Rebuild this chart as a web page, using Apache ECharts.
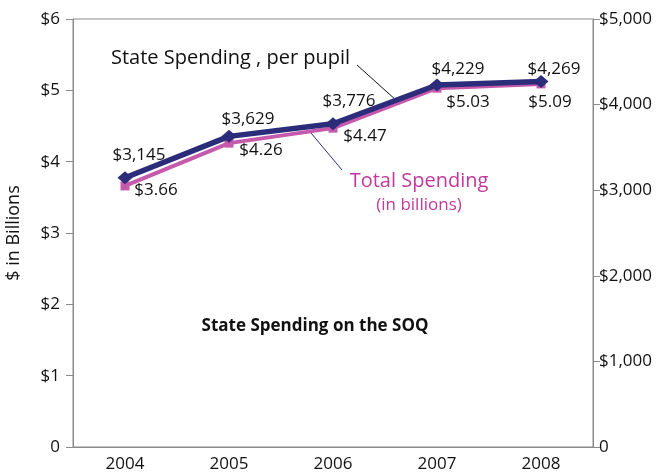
<!DOCTYPE html>
<html>
<head>
<meta charset="utf-8">
<script src="https://cdn.jsdelivr.net/npm/echarts@6/dist/echarts.min.js"></script>
<style>
  html, body { margin: 0; padding: 0; background: #fff; }
  #chart { width: 656px; height: 474px; }
</style>
</head>
<body>
<div id="chart"></div>
<script>
  const years = ['2004', '2005', '2006', '2007', '2008']
  const perPupil = [3145, 3629, 3776, 4229, 4269]
  const totalBillions = [3.66, 4.26, 4.47, 5.03, 5.09]
  const leftTicks = ['0', '$1', '$2', '$3', '$4', '$5', '$6']
  const rightTicks = ['0', '$1,000', '$2,000', '$3,000', '$4,000', '$5,000']

  // label centre offsets from each point, in pixels
  const pupilOffsets = [[14, -23], [19, -17], [16, -23], [21, -16], [13, -12]]
  const totalOffsets = [[31, 4], [32, 7], [32, 8], [31, 14], [9, 18]]

  const font = 'Open Sans'
  const navy = '#2c2d7a'
  const pink = '#c55aad'
  const grey = '#8a8a8a'

  const chart = echarts.init(document.getElementById('chart'))

  chart.setOption({
    animation: false,
    textStyle: { fontFamily: font },
    grid: {
      left: 73,
      right: 63,
      top: 19,
      bottom: 27,
      outerBoundsMode: 'none',
      show: true,
      borderColor: grey,
      borderWidth: 1
    },
    xAxis: {
      type: 'category',
      data: years,
      boundaryGap: true,
      axisLine: { lineStyle: { color: grey } },
      axisTick: { show: false },
      axisLabel: { color: '#111', fontSize: 17, margin: 9, fontFamily: font }
    },
    yAxis: [
      {
        type: 'value',
        min: 0,
        max: 6,
        interval: 1,
        name: '$ in Billions',
        nameLocation: 'middle',
        nameGap: 50,
        nameTextStyle: { color: '#111', fontSize: 18, fontFamily: font },
        splitLine: { show: false },
        axisLine: { show: true, lineStyle: { color: grey } },
        axisTick: { show: true, length: 7, lineStyle: { color: grey } },
        axisLabel: {
          color: '#111',
          fontSize: 17,
          margin: 13,
          fontFamily: font,
          formatter: (v) => leftTicks[Math.round(v)]
        }
      },
      {
        type: 'value',
        min: 0,
        max: 5000,
        interval: 1000,
        position: 'right',
        splitLine: { show: false },
        axisLine: { show: true, lineStyle: { color: grey } },
        axisTick: { show: true, length: 7, lineStyle: { color: grey } },
        axisLabel: {
          color: '#111',
          fontSize: 17,
          margin: 6,
          fontFamily: font,
          formatter: (v) => rightTicks[Math.round(v / 1000)]
        }
      }
    ],
    series: [
      {
        name: 'Total Spending',
        type: 'line',
        yAxisIndex: 0,
        data: totalBillions.map((v, i) => ({
          value: v,
          label: { offset: totalOffsets[i] }
        })),
        symbol: 'rect',
        symbolSize: 9,
        lineStyle: { color: pink, width: 4 },
        itemStyle: { color: pink },
        label: {
          show: true,
          position: 'inside',
          color: '#111',
          fontSize: 17,
          fontFamily: font,
          formatter: (p) => '$' + p.value.toFixed(2)
        },
        z: 2
      },
      {
        name: 'State Spending, per pupil',
        type: 'line',
        yAxisIndex: 1,
        data: perPupil.map((v, i) => ({
          value: v,
          label: { offset: pupilOffsets[i] }
        })),
        symbol: 'diamond',
        symbolSize: [15, 13],
        lineStyle: { color: navy, width: 5.5 },
        itemStyle: { color: navy },
        label: {
          show: true,
          position: 'inside',
          color: '#111',
          fontSize: 17,
          fontFamily: font,
          formatter: (p) => '$' + p.value.toLocaleString('en-US')
        },
        z: 3
      }
    ],
    graphic: [
      {
        type: 'text',
        x: 111,
        y: 58,
        style: { text: 'State Spending , per pupil', fontSize: 20, fontFamily: font, fill: '#111', verticalAlign: 'middle' }
      },
      {
        type: 'line',
        shape: { x1: 357, y1: 65, x2: 397, y2: 101 },
        style: { stroke: '#111', lineWidth: 1 }
      },
      {
        type: 'text',
        x: 419,
        y: 181,
        style: { text: 'Total Spending', fontSize: 20, fontFamily: font, fill: '#c2389c', align: 'center', verticalAlign: 'middle' }
      },
      {
        type: 'text',
        x: 419,
        y: 205,
        style: { text: '(in billions)', fontSize: 17, fontFamily: font, fill: '#c2389c', align: 'center', verticalAlign: 'middle' }
      },
      {
        type: 'line',
        shape: { x1: 311, y1: 133, x2: 342, y2: 170 },
        style: { stroke: navy, lineWidth: 1 }
      },
      {
        type: 'text',
        x: 315,
        y: 326,
        style: { text: 'State Spending on the SOQ', fontSize: 17, fontWeight: 'bold', fontFamily: font, fill: '#111', align: 'center', verticalAlign: 'middle' }
      }
    ]
  })
</script>
</body>
</html>
